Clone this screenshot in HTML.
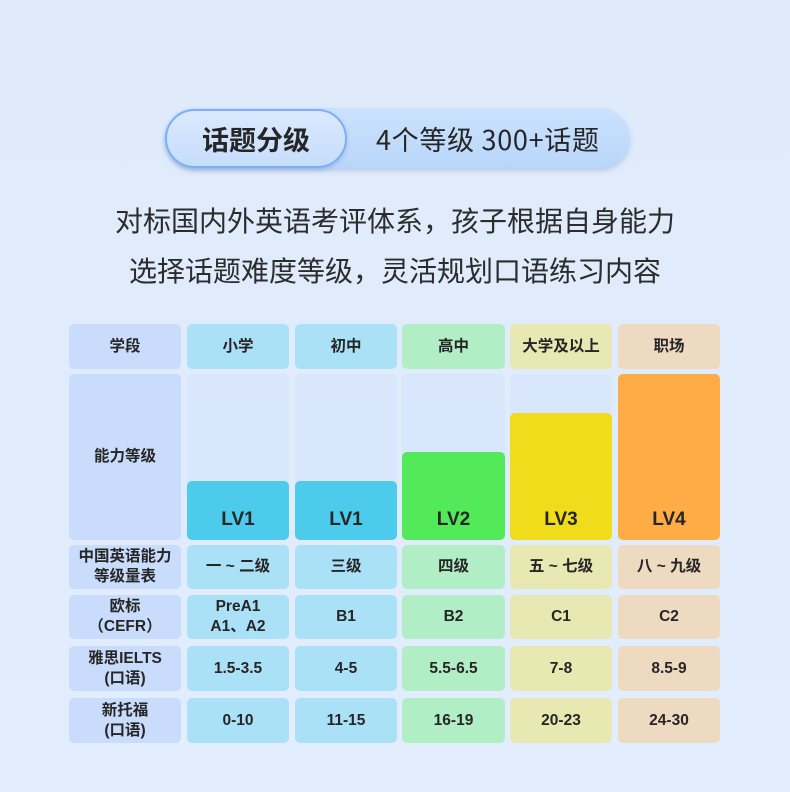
<!DOCTYPE html>
<html><head><meta charset="utf-8"><style>
*{margin:0;padding:0;box-sizing:border-box}
body{width:790px;height:792px;overflow:hidden;background:linear-gradient(180deg,#dfeafb 0%,#e0ecfc 60%,#e2eefd 100%);font-family:"Liberation Sans","Noto Sans CJK SC",sans-serif;color:#2a2a2a;position:relative}
.abs{position:absolute}
.pill{left:165px;top:108px;width:465px;height:60px;border-radius:30px;background:linear-gradient(180deg,#cbe2fd 0%,#b9d6fa 100%);box-shadow:0 3px 5px rgba(120,150,190,.35)}
.inner{left:165px;top:109px;width:182px;height:59px;border-radius:30px;border:2px solid #7cb0f6;background:linear-gradient(180deg,#dbe9fd 0%,#c6ddfb 100%);box-shadow:0 2px 4px rgba(90,130,190,.35);display:flex;align-items:center;justify-content:center;font-weight:bold;font-size:27px;color:#262626;font-family:"Noto Sans CJK SC",sans-serif;letter-spacing:0px}
.ptxt{left:376px;top:109px;width:240px;height:59px;display:flex;align-items:center;font-size:27px;color:#262626;font-family:"Noto Sans CJK SC",sans-serif;white-space:nowrap;letter-spacing:0.7px}
.line{left:0;width:790px;text-align:center;font-size:28px;color:#2c2c2c;font-family:"Noto Sans CJK SC",sans-serif;line-height:40px;height:40px}
.c{position:absolute;border-radius:5px;display:flex;flex-direction:column;align-items:center;justify-content:center;font-weight:bold;font-size:15.5px;line-height:20px;text-align:center;color:#262626}
.lab{background:#c9dcfb}
.a{background:#abe1f6}
.b{background:#b1eec6}
.y{background:#e8e8b2}
.o{background:#eed9c1}
.e{background:#d9e7fc}
.bar{position:absolute;border-radius:5px;display:flex;align-items:flex-end;justify-content:center;font-weight:bold;font-size:19px;padding-bottom:9px;color:#262626}
</style></head><body>
<div class="abs pill"></div>
<div class="abs inner">话题分级</div>
<div class="abs ptxt">4个等级 300+话题</div>
<div class="abs line" style="top:200px">对标国内外英语考评体系，孩子根据自身能力</div>
<div class="abs line" style="top:250px">选择话题难度等级，灵活规划口语练习内容</div>

<!-- row 0 -->
<div class="c lab" style="left:69px;top:324px;width:112px;height:45px">学段</div>
<div class="c a" style="left:187px;top:324px;width:102px;height:45px">小学</div>
<div class="c a" style="left:295px;top:324px;width:102px;height:45px">初中</div>
<div class="c b" style="left:402px;top:324px;width:103px;height:45px">高中</div>
<div class="c y" style="left:510px;top:324px;width:102px;height:45px">大学及以上</div>
<div class="c o" style="left:618px;top:324px;width:102px;height:45px">职场</div>

<!-- row 1 -->
<div class="c lab" style="left:69px;top:374px;width:112px;height:166px">能力等级</div>
<div class="c e" style="left:187px;top:374px;width:102px;height:166px"></div>
<div class="c e" style="left:295px;top:374px;width:102px;height:166px"></div>
<div class="c e" style="left:402px;top:374px;width:103px;height:166px"></div>
<div class="c e" style="left:510px;top:374px;width:102px;height:166px"></div>
<div class="bar" style="left:187px;top:481px;width:102px;height:59px;background:#4ccbed">LV1</div>
<div class="bar" style="left:295px;top:481px;width:102px;height:59px;background:#4ccbed">LV1</div>
<div class="bar" style="left:402px;top:452px;width:103px;height:88px;background:#52ea58">LV2</div>
<div class="bar" style="left:510px;top:413px;width:102px;height:127px;background:#f0dc1b">LV3</div>
<div class="bar" style="left:618px;top:374px;width:102px;height:166px;background:#ffab46">LV4</div>

<!-- row 2 -->
<div class="c lab" style="left:69px;top:545px;width:112px;height:44px"><span>中国英语能力</span><span>等级量表</span></div>
<div class="c a" style="left:187px;top:545px;width:102px;height:44px">一 ~ 二级</div>
<div class="c a" style="left:295px;top:545px;width:102px;height:44px">三级</div>
<div class="c b" style="left:402px;top:545px;width:103px;height:44px">四级</div>
<div class="c y" style="left:510px;top:545px;width:102px;height:44px">五 ~ 七级</div>
<div class="c o" style="left:618px;top:545px;width:102px;height:44px">八 ~ 九级</div>

<!-- row 3 -->
<div class="c lab" style="left:69px;top:595px;width:112px;height:44px"><span>欧标</span><span>（CEFR）</span></div>
<div class="c a" style="left:187px;top:595px;width:102px;height:44px"><span>PreA1</span><span>A1、A2</span></div>
<div class="c a" style="left:295px;top:595px;width:102px;height:44px">B1</div>
<div class="c b" style="left:402px;top:595px;width:103px;height:44px">B2</div>
<div class="c y" style="left:510px;top:595px;width:102px;height:44px">C1</div>
<div class="c o" style="left:618px;top:595px;width:102px;height:44px">C2</div>

<!-- row 4 -->
<div class="c lab" style="left:69px;top:646px;width:112px;height:45px"><span>雅思IELTS</span><span>(口语)</span></div>
<div class="c a" style="left:187px;top:646px;width:102px;height:45px">1.5-3.5</div>
<div class="c a" style="left:295px;top:646px;width:102px;height:45px">4-5</div>
<div class="c b" style="left:402px;top:646px;width:103px;height:45px">5.5-6.5</div>
<div class="c y" style="left:510px;top:646px;width:102px;height:45px">7-8</div>
<div class="c o" style="left:618px;top:646px;width:102px;height:45px">8.5-9</div>

<!-- row 5 -->
<div class="c lab" style="left:69px;top:698px;width:112px;height:45px"><span>新托福</span><span>(口语)</span></div>
<div class="c a" style="left:187px;top:698px;width:102px;height:45px">0-10</div>
<div class="c a" style="left:295px;top:698px;width:102px;height:45px">11-15</div>
<div class="c b" style="left:402px;top:698px;width:103px;height:45px">16-19</div>
<div class="c y" style="left:510px;top:698px;width:102px;height:45px">20-23</div>
<div class="c o" style="left:618px;top:698px;width:102px;height:45px">24-30</div>
</body></html>
